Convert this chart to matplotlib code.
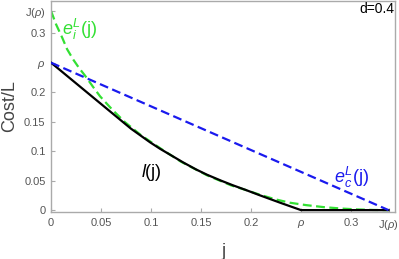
import numpy as np
import matplotlib
matplotlib.use("Agg")
import matplotlib.pyplot as plt

plt.rcParams["font.family"] = ["Liberation Sans", "DejaVu Sans"]
plt.rcParams["mathtext.fontset"] = "custom"
plt.rcParams["mathtext.rm"] = "Liberation Sans"
plt.rcParams["mathtext.it"] = "Liberation Sans:italic"

rho = 0.25
J_rho = 0.3375

j_green = [0, 0.005, 0.011, 0.016, 0.0223, 0.028, 0.034, 0.042, 0.049, 0.056,
           0.062, 0.074, 0.09, 0.11, 0.13, 0.156, 0.18, 0.195, 0.209, 0.225,
           0.239, 0.255, 0.272, 0.29, 0.306, 0.322, J_rho]
e_i = [0.3375, 0.315, 0.293, 0.273, 0.255, 0.241, 0.228, 0.209, 0.193, 0.180,
       0.169, 0.149, 0.127, 0.104, 0.082, 0.059, 0.042, 0.034, 0.026, 0.018,
       0.0125, 0.0085, 0.0052, 0.0027, 0.0012, 0.0003, 0.0]

j_black = [0, 0.03, 0.0657, 0.08, 0.099, 0.109, 0.12, 0.132, 0.145, 0.156,
           0.17, 0.182, 0.195, 0.209, 0.23, rho, J_rho]
l_j = [0.25, 0.208, 0.158, 0.138, 0.115, 0.104, 0.093, 0.081, 0.069, 0.060,
       0.050, 0.042, 0.034, 0.025, 0.012, 0.0, 0.0]

j_blue = [0, J_rho]
e_c = [rho, 0.0]

xticks = [0, 0.05, 0.1, 0.15, 0.2, rho, 0.3, J_rho]
xticklabels = ["0", "0.05", "0.1", "0.15", "0.2", r"$\rho$", "0.3", r"J($\rho$)"]
yticks = [0, 0.05, 0.1, 0.15, 0.2, rho, 0.3, J_rho]
yticklabels = ["0", "0.05", "0.1", "0.15", "0.2", r"$\rho$", "0.3", r"J($\rho$)"]

fig = plt.figure(figsize=(3.99, 2.59), dpi=100)
ax = fig.add_axes([0.128, 0.181, 0.862, 0.816])

ax.plot(j_green, e_i, color="#33e033", lw=1.6, ls=(0, (4, 2)), zorder=2)
ax.plot(j_black, l_j, color="black", lw=1.6, zorder=3)
ax.plot(j_blue, e_c, color="#1a1aee", lw=1.6, ls=(0, (4, 2)), zorder=4)

ax.text(0.029, 0.306, r"$e_i^L$(j)", color="#33e033", fontsize=13,
        ha="center", va="center")
ax.text(0.301, 0.056, r"$e_c^L$(j)", color="#1a1aee", fontsize=13,
        ha="center", va="center")
ax.text(0.1, 0.064, r"$l$(j)", color="black", fontsize=13,
        ha="center", va="center")
ax.text(0.343, 0.353, "d=0.4", color="black", fontsize=10,
        ha="right", va="top")

ax.set_xlim(0, 0.344)
ax.set_ylim(-0.0034, 0.355)
ax.set_xticks(xticks)
ax.set_xticklabels(xticklabels)
ax.set_yticks(yticks)
ax.set_yticklabels(yticklabels)
ax.tick_params(direction="in", length=3, color="#aaaaaa", labelcolor="#555555",
               labelsize=8, pad=4)

for side in ("top", "right", "bottom", "left"):
    ax.spines[side].set_color("#aaaaaa")
    ax.spines[side].set_linewidth(1.0)

ax.set_xlabel("j", fontsize=13, color="#444444", labelpad=8)
ax.set_ylabel("Cost/L", fontsize=13, color="#444444", labelpad=4)

fig.savefig("out.png", dpi=100)
